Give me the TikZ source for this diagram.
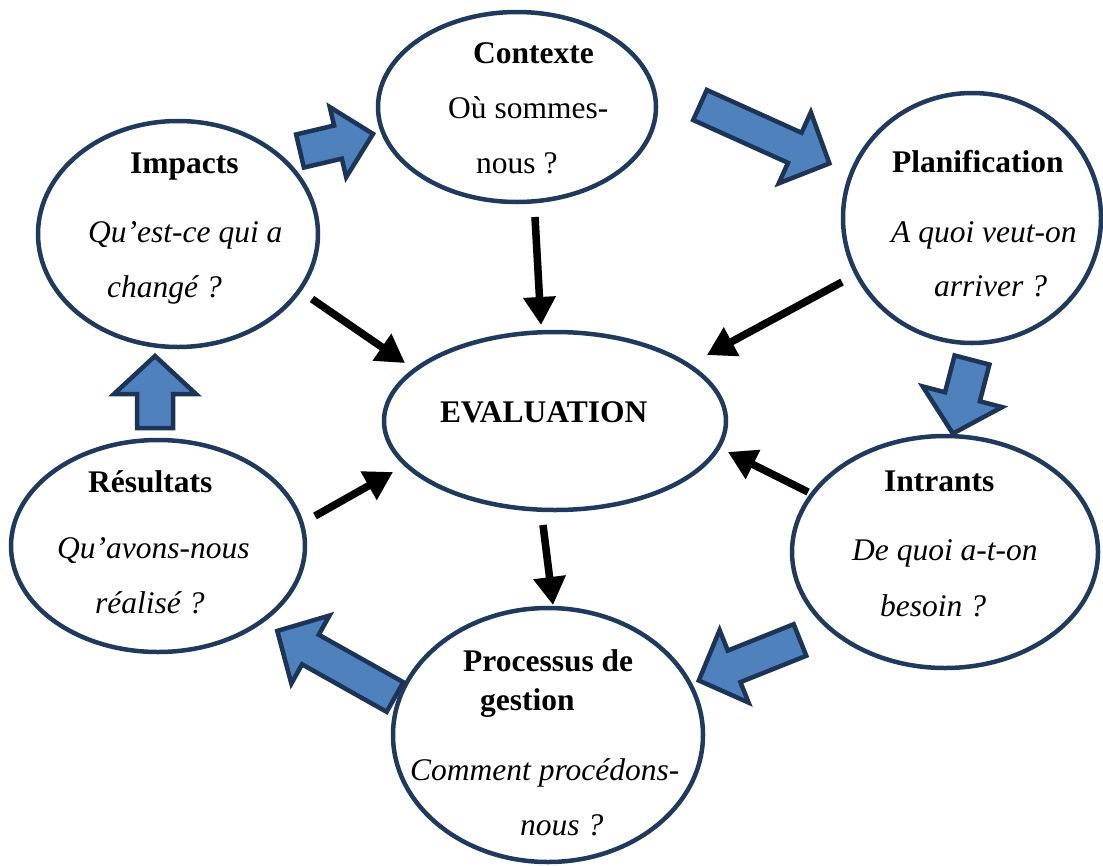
\documentclass[tikz,border=0pt]{standalone}
\usepackage{fontspec}
\setmainfont{Liberation Serif}
\usetikzlibrary{shapes.geometric,arrows.meta}
\definecolor{rim}{HTML}{1F3A5C}
\definecolor{bfill}{HTML}{4F81BD}
\definecolor{bedge}{HTML}{1C3557}
\newcommand{\blockarrow}[6]{%
  \draw[blk, shift={#1}, rotate=#2] (0,-#4) -- ({#3-#6},-#4) -- ({#3-#6},-#5) -- (#3,0) -- ({#3-#6},#5) -- ({#3-#6},#4) -- (0,#4) -- cycle;}
\begin{document}
\begin{tikzpicture}[x=1pt,y=-1pt,
  bubble/.style={ellipse, draw=rim, line width=4.5pt, fill=white, inner sep=0pt},
  lbl/.style={anchor=base west, inner sep=0pt, font=\fontsize{31.5}{36}\selectfont},
  hd/.style={lbl, font=\fontsize{31.5}{36}\selectfont\bfseries},
  qs/.style={lbl, font=\fontsize{31.5}{36}\selectfont\itshape},
  blk/.style={draw=bedge, fill=bfill, line width=4.5pt, line join=miter},
  ptr/.style={line width=7.5pt, -{Triangle[length=28pt,width=31pt]}},
  shd/.style={ptr, draw=black!40, fill=black!40, opacity=.35}]
\useasboundingbox (0,0) rectangle (1103,865);
\clip (0,0) rectangle (1103,865);

% ellipses
\node[bubble, minimum width=278pt, minimum height=190pt] (ctx)  at (517,107) {};
\node[bubble, minimum width=258pt, minimum height=250pt] (plan) at (972,218) {};
\node[bubble, minimum width=280pt, minimum height=226pt] (imp)  at (178,234) {};
\node[bubble, minimum width=342pt, minimum height=178pt] (eval) at (555,421) {};
\node[bubble, minimum width=294pt, minimum height=212pt] (res)  at (158,546) {};
\node[bubble, minimum width=306pt, minimum height=232pt] (intr) at (945,552) {};
\node[bubble, minimum width=310pt, minimum height=254pt] (proc) at (548,735) {};

% texts
\node[hd] (ctxh) at (473,63) {Contexte};
\node[lbl] (ctxq1) at (448,118) {Où sommes-};
\node[lbl] (ctxq2) at (476,173) {nous ?};

\node[hd] (planh) at (892,172) {Planification};
\node[qs] (planq1) at (891,242) {A quoi veut-on};
\node[qs] (planq2) at (934,296) {arriver ?};

\node[hd] (imph) at (130,173) {Impacts};
\node[qs] (impq1) at (88,242) {Qu’est-ce qui a};
\node[qs] (impq2) at (107,297) {changé ?};

\node[hd] (evalt) at (440,422) {EVALUATION};

\node[hd] (resh) at (88,492) {Résultats};
\node[qs] (resq1) at (57,558) {Qu’avons-nous};
\node[qs] (resq2) at (95,613) {réalisé ?};

\node[hd] (intrh) at (884,491) {Intrants};
\node[qs] (intrq1) at (852,560) {De quoi a-t-on};
\node[qs] (intrq2) at (880,616) {besoin ?};

\node[hd] (proch1) at (463,671) {Processus de};
\node[hd] (proch2) at (480,710) {gestion};
\node[qs] (procq1) at (410,780) {Comment procédons-};
\node[qs] (procq2) at (520,835) {nous ?};

% blue block arrows
\blockarrow{(300,151)}{13.2}{75}{17}{36}{36}
\blockarrow{(700,105)}{-24.3}{142}{16.5}{39}{38}
\blockarrow{(972,360)}{-104.6}{76}{18}{41}{38}
\blockarrow{(800,640)}{-158.2}{109}{17}{39}{38}
\blockarrow{(395,697)}{150.7}{135}{17}{39}{38}
\blockarrow{(155,428)}{90}{72}{18}{41}{38}

% black arrows
\coordinate (a1s) at (535,217); \coordinate (a1e) at (541,325);
\coordinate (a2s) at (312,299); \coordinate (a2e) at (405,363);
\coordinate (a3s) at (842,282); \coordinate (a3e) at (707,355);
\coordinate (a4s) at (808,492); \coordinate (a4e) at (728,452);
\coordinate (a5s) at (315,516); \coordinate (a5e) at (393,472);
\coordinate (a6s) at (543,525); \coordinate (a6e) at (553,605);
\begin{scope}[shift={(2,2)}]
\foreach \i in {1,...,6} \draw[shd] (a\i s) -- (a\i e);
\end{scope}
\foreach \i in {1,...,6} \draw[ptr] (a\i s) -- (a\i e);
\end{tikzpicture}
\end{document}
